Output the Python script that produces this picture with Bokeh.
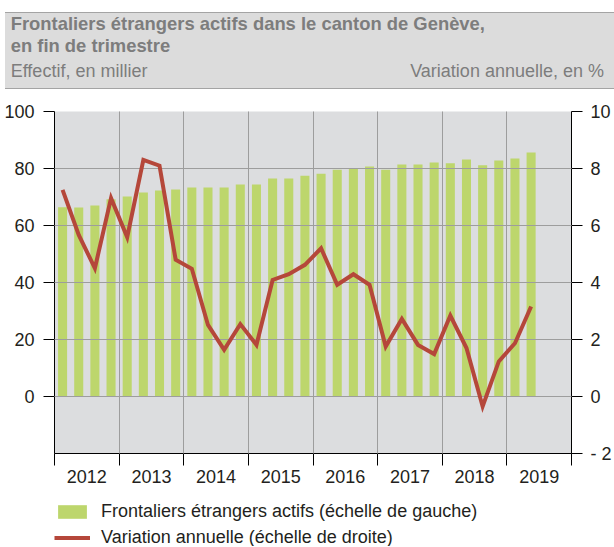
from bokeh.plotting import figure
from bokeh.models import (Range1d, LinearAxis, FixedTicker, Legend, LegendItem,
                          ColumnDataSource, Div)
from bokeh.layouts import column
from bokeh.embed import file_html
from bokeh.resources import INLINE

# ---------------- data ----------------
years = [2012, 2013, 2014, 2015, 2016, 2017, 2018, 2019]
quarter_year = [2012] * 4 + [2013] * 4 + [2014] * 4 + [2015] * 4 + [2016] * 4 + \
               [2017] * 4 + [2018] * 4 + [2019] * 2
quarter_num = [1, 2, 3, 4] * 7 + [1, 2]
frontaliers = [66.4, 66.3, 67.0, 69.2, 70.2, 71.6, 72.3, 72.6,
               73.3, 73.3, 73.3, 74.4, 74.4, 76.5, 76.5, 77.5,
               78.2, 79.6, 79.9, 80.7, 79.6, 81.4, 81.4, 82.1,
               81.8, 83.2, 81.1, 82.8, 83.5, 85.6]
variation = [7.25, 5.67, 4.50, 6.96, 5.59, 8.30, 8.10, 4.80,
             4.48, 2.51, 1.64, 2.54, 1.81, 4.09, 4.29, 4.62,
             5.20, 3.92, 4.29, 3.92, 1.75, 2.72, 1.81, 1.49,
             2.84, 1.70, -0.35, 1.23, 1.87, 3.16]
left_ticks = [0, 20, 40, 60, 80, 100]
right_ticks = [-2, 0, 2, 4, 6, 8, 10]
right_tick_labels = {-2: "- 2"}

title1 = "Frontaliers étrangers actifs dans le canton de Genève,"
title2 = "en fin de trimestre"
sub_left = "Effectif, en millier"
sub_right = "Variation annuelle, en %"
legend_bar = "Frontaliers étrangers actifs (échelle de gauche)"
legend_line = "Variation annuelle (échelle de droite)"

# ---------------- style ----------------
FONT = "Liberation Sans"
W = 614
HDR_H = 89
MAIN_H = 404
LEG_H = 53
BL, BR = 54, 43
GREY_BG = "#dcdddf"
GRID = "#9d9d9d"
BAR = "#bdd66c"
LINE = "#b5473a"
TXT = "#231f20"
HDR_TXT = "#7d7d7d"

# ---------------- header (HTML block) ----------------
hdr_html = f"""
<div style="position:relative; margin-top:11.7px; margin-left:5px; width:{W - 5}px; height:77.3px;
            box-sizing:border-box; background:#dcdcdc;
            border-top:1.5px solid #a4a4a4; border-bottom:1.5px solid #a4a4a4;
            font-family:'{FONT}', Arial, sans-serif; font-size:18px; line-height:18px;
            color:{HDR_TXT}; white-space:nowrap;">
  <span style="position:absolute; left:5.7px; top:2.7px; font-weight:bold; font-size:18.4px;">{title1}</span>
  <span style="position:absolute; left:5.7px; top:24.7px; font-weight:bold; font-size:18.4px;">{title2}</span>
  <span style="position:absolute; left:5.7px; top:49.0px;">{sub_left}</span>
  <span style="position:absolute; right:10px; top:49.0px;">{sub_right}</span>
</div>
"""
hdr = Div(text=hdr_html, width=W, height=HDR_H, margin=(0, 0, 0, 0))

# ---------------- main chart ----------------
xs = [y + (q - 0.5) / 4 for y, q in zip(quarter_year, quarter_num)]
src = ColumnDataSource(data=dict(x=xs, val=frontaliers, var=variation))

p = figure(width=W, height=MAIN_H, x_range=Range1d(years[0], years[-1] + 1),
           y_range=Range1d(-20, 100), output_backend="svg", toolbar_location=None,
           min_border_left=BL, min_border_right=BR, min_border_top=22, min_border_bottom=40,
           background_fill_color=GREY_BG, border_fill_color="white", outline_line_color=None)
p.extra_y_ranges = {"pct": Range1d(-2, 10)}

bar_style = dict(fill_color=BAR, line_color=None)
line_style = dict(line_color=LINE, line_width=4, line_join="miter")

bars = p.vbar(x="x", top="val", bottom=0, width=0.14, source=src, **bar_style)
line = p.line(x="x", y="var", y_range_name="pct", source=src, level="overlay", **line_style)

# grids (drawn over the bars, under the line)
p.xgrid.ticker = FixedTicker(ticks=years[1:])
p.ygrid.ticker = FixedTicker(ticks=left_ticks)
p.grid.grid_line_color = GRID
p.grid.grid_line_width = 1
p.grid.level = "guide"

def style_axis(ax):
    ax.axis_line_color = "black"
    ax.axis_line_width = 1
    ax.major_tick_line_color = "black"
    ax.minor_tick_line_color = "black"
    ax.major_tick_in = 0
    ax.minor_tick_in = 0
    ax.major_label_text_font = FONT
    ax.major_label_text_font_size = "18px"
    ax.major_label_text_color = TXT

# left axis
yl = p.yaxis[0]
style_axis(yl)
yl.ticker = FixedTicker(ticks=left_ticks)
yl.major_tick_out = 11
yl.minor_tick_out = 0
yl.major_label_standoff = 9

# right axis
yr = LinearAxis(y_range_name="pct", ticker=FixedTicker(ticks=right_ticks),
                major_label_overrides=right_tick_labels)
style_axis(yr)
yr.major_tick_out = 11
yr.minor_tick_out = 0
yr.major_label_standoff = 8
p.add_layout(yr, "right")

# bottom axis: labels centred in each year, ticks on year boundaries
xa = p.xaxis[0]
style_axis(xa)
mids = [y + 0.5 for y in years]
xa.ticker = FixedTicker(ticks=mids, minor_ticks=years + [years[-1] + 1])
xa.major_label_overrides = {m: str(y) for m, y in zip(mids, years)}
xa.major_tick_out = 0
xa.minor_tick_out = 12
xa.major_label_standoff = 4

# ---------------- legend strip ----------------
# The legend lives in its own strip below the chart; its renderers share the chart's
# data, but the strip's y range lies above all values, so only the legend swatches show.
lg = figure(width=W, height=LEG_H, x_range=Range1d(years[0], years[-1] + 1),
            y_range=Range1d(200, 300),
            output_backend="svg", toolbar_location=None,
            min_border_left=BL, min_border_right=BR, min_border_top=0, min_border_bottom=0,
            x_axis_location=None, y_axis_location=None, outline_line_color=None,
            background_fill_color="white", border_fill_color="white")
lg.grid.visible = False
leg_bar = lg.vbar(x="x", top="val", bottom=0, width=0.14, source=src, **bar_style)
leg_line = lg.line(x="x", y="var", source=src, **line_style)

legend = Legend(items=[LegendItem(label=legend_bar, renderers=[leg_bar]),
                       LegendItem(label=legend_line, renderers=[leg_line])],
                location=(0, -1.5), orientation="vertical",
                label_text_font=FONT, label_text_font_size="18px", label_text_color=TXT,
                glyph_width=36, glyph_height=17, label_height=20, label_standoff=11,
                padding=0, margin=0, spacing=5, border_line_color=None,
                background_fill_alpha=0)
lg.add_layout(legend)

layout = column(hdr, p, lg, spacing=0)
open("out.html", "w").write(file_html(layout, INLINE))
